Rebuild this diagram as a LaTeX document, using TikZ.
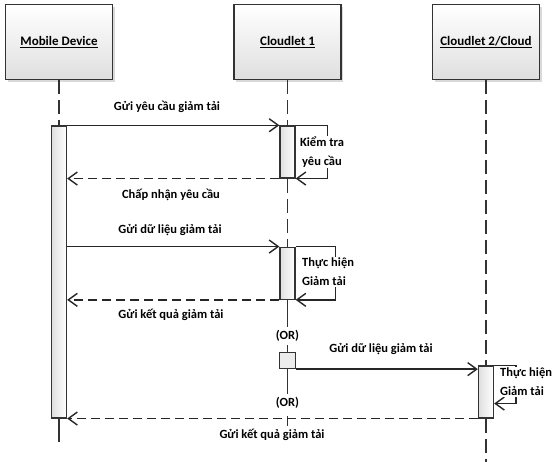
\documentclass[tikz,border=0pt]{standalone}
\usepackage{fontspec}
\setmainfont{Carlito}
\usetikzlibrary{positioning,arrows.meta,shadows}

\begin{document}
\begin{tikzpicture}[
    x=1pt, y=-1pt,
    every node/.style={font=\fontsize{12.5}{19}\selectfont\bfseries},
    actor/.style={draw=black!80, line width=1.5pt, rectangle, minimum width=107pt, minimum height=75pt, top color=white, bottom color=gray!25, drop shadow={opacity=0.3}, font=\fontsize{13}{19}\selectfont\bfseries},
    actbar/.style={draw=black!80, line width=1.3pt, rectangle, minimum width=15pt, anchor=north, left color=gray!25, right color=white},
    orbox/.style={draw=black!80, line width=1.3pt, rectangle, minimum width=16pt, minimum height=16pt, fill=gray!15},
    lifeline/.style={black!80, line width=1.4pt, dash pattern=on 14pt off 6pt},
    solidline/.style={black!80, line width=1.4pt},
    msg/.style={-{Straight Barb[length=9pt,width=13pt]}, black!85, line width=1.4pt},
    reply/.style={msg, dash pattern=on 9pt off 5pt},
    lbl/.style={inner sep=1pt, fill=white}
]
\useasboundingbox (0,0) rectangle (554,462);

% Các đối tượng
\node[actor] (mobile) at (59,42) {\underline{Mobile Device}};
\node[actor, right=120pt of mobile] (cl1) {\underline{Cloudlet 1}};
\node[actor, right=90pt of cl1] (cl2) {\underline{Cloudlet 2/Cloud}};

% Thanh kích hoạt
\node[actbar, minimum height=292pt] (mbar) at ([yshift=-45pt]mobile.south) {};
\node[actbar, minimum height=52pt] (ca) at ([yshift=-45pt]cl1.south) {};
\node[actbar, minimum height=52pt, below=68pt of ca] (cb) {};
\node[orbox, below=52pt of cb] (orb) {};
\node[actbar, minimum height=52pt] (c2bar) at ([yshift=-285pt]cl2.south) {};
\node (or1) at ([yshift=-36pt]cb.south) {(OR)};
\node (or2) at ([yshift=-103pt]cb.south) {(OR)};

% Đường đời
\draw[lifeline] (mobile.south) -- (mbar.north);
\draw[solidline] (mbar.south) -- ++(0,23);
\draw[lifeline] (cl1.south) -- (ca.north);
\draw[lifeline] (ca.south) -- (cb.north);
\draw[solidline] (cb.south) -- (or1.north);
\draw[solidline] (or1.south) -- (orb.north);
\draw[solidline] (orb.south) -- (or2.north);
\draw[solidline] ([yshift=-4pt]or2.south) -- ++(0,10);
\draw[lifeline] (cl2.south) -- (c2bar.north);
\draw[lifeline] (c2bar.south) -- ++(0,45);

% Thông điệp
\draw[msg] (mbar.north east) -- (ca.north west);
\draw[msg] (ca.north east) -- ++(32,0) |- (ca.south east);
\draw[reply] (ca.south west) -- (mbar.east |- ca.south west);
\draw[msg] (mbar.east |- cb.north west) -- (cb.north west);
\draw[msg] (cb.north east) -- ++(40,0) |- (cb.south east);
\draw[reply] (cb.south west) -- (mbar.east |- cb.south west);
\draw[msg] (orb.south east) -- (orb.south east -| c2bar.west);
\draw[msg] (c2bar.north east) -- ++(22,0) |- ([yshift=15pt]c2bar.south east);
\draw[reply] (c2bar.south west) -- (mbar.south east);

% Nhãn
\node[lbl] (t1) at (167,107) {Gửi yêu cầu giảm tải};
\node[lbl, align=center] (kt) at (322,152) {Kiểm tra\\yêu cầu};
\node[lbl] (t2) at (171,195) {Chấp nhận yêu cầu};
\node[lbl] (t3) at (170,230) {Gửi dữ liệu giảm tải};
\node[lbl, align=left, anchor=west] (th1) at (301,272) {Thực hiện\\Giảm tải};
\node[lbl] (t4) at (171,315) {Gửi kết quả giảm tải};
\node[lbl] (t5) at (381,349) {Gửi dữ liệu giảm tải};
\node[lbl, align=left, anchor=west] (th2) at (499,382) {Thực hiện\\Giảm tải};
\node[lbl] (t6) at (272,435) {Gửi kết quả giảm tải};

\end{tikzpicture}
\end{document}
